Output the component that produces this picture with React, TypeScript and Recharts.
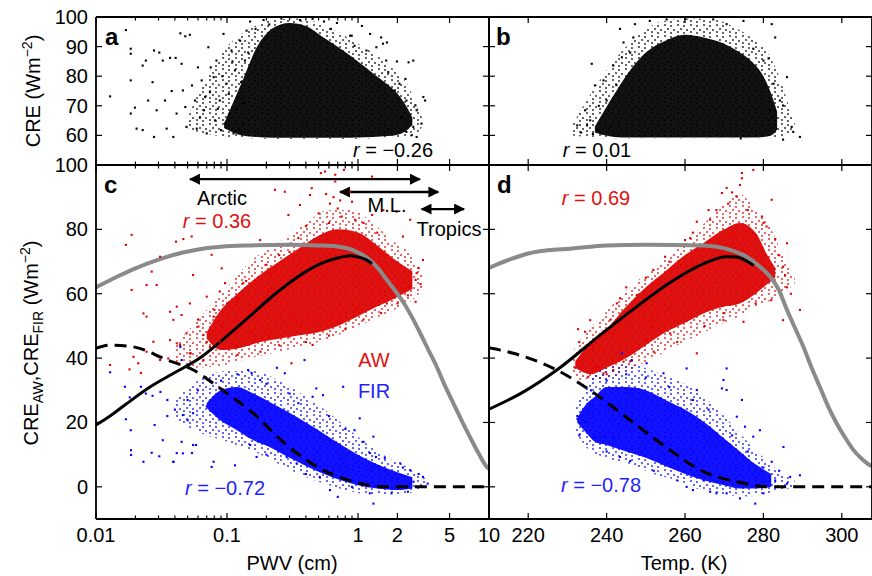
import React from "react";
import { ComposedChart, Scatter, Line, Area, XAxis, YAxis } from "recharts";

const FONT = "'Liberation Sans', Arial, Helvetica, sans-serif";
const RED = "#dd0000";
const BLUE = "#0000ff";
const GREY = "#8a8a8a";

type Pt = [number, number];
type Band = [number, number, number];

// axes
const PWV_TICKS = [0.01, 0.02, 0.03, 0.04, 0.05, 0.06, 0.07, 0.08, 0.09, 0.1, 0.2, 0.3, 0.4, 0.5, 0.6, 0.7, 0.8, 0.9, 1, 2, 5, 10];
const PWV_MAJOR = [0.01, 0.1, 1, 2, 5, 10];
const TEMP_TICKS = [220, 240, 260, 280, 300];
const CRE_TICKS = [60, 70, 80, 90, 100];
const CRE2_TICKS = [0, 20, 40, 60, 80, 100];

// panel a: CRE vs PWV
const A_CORE: Band[] = [[0.095, 62.5, 64], [0.13, 60, 78], [0.17, 59.5, 90], [0.22, 59.2, 96], [0.3, 59.2, 98], [0.4, 59.2, 97], [0.55, 59.2, 93], [0.75, 59.2, 89], [1.0, 59.3, 85], [1.3, 59.5, 81], [1.7, 59.8, 77], [2.1, 60.5, 73], [2.4, 62, 69], [2.6, 63.5, 66]];
const A_HALO: Band[] = [[0.05, 62, 66], [0.07, 60.5, 80], [0.1, 59.5, 90], [0.15, 59, 96], [0.22, 58.8, 99], [0.35, 58.8, 99.5], [0.5, 58.8, 98], [0.7, 58.8, 95], [1.0, 58.8, 91], [1.4, 59, 87], [1.9, 59.2, 82], [2.4, 59.5, 77], [2.8, 60.5, 70], [3.1, 63, 66]];
const A_DOTS: Pt[] = [
  [0.0128, 73.2], [0.0169, 95.6], [0.0184, 89.3], [0.0184, 87.6], [0.0184, 78.6], [0.0184, 67.4], [0.0198, 69.4], [0.0204, 62.3], [0.0227, 61.8], [0.0227, 83.6],
  [0.024, 85.3], [0.025, 71.8], [0.027, 78], [0.0277, 59.5], [0.0277, 88.7], [0.029, 68.5], [0.0304, 88], [0.0323, 85.3], [0.0336, 71.8], [0.0346, 62.3],
  [0.0367, 86.2], [0.0378, 75], [0.0389, 59.5], [0.0405, 86.2], [0.0412, 67.4], [0.045, 84.2], [0.046, 75.2], [0.048, 69.6], [0.049, 62.9], [0.044, 94.5],
  [0.048, 93.5], [0.052, 94], [0.054, 76.9], [0.057, 71.8], [0.0587, 62.3], [0.06, 83], [0.064, 78.6], [0.0667, 68.5], [0.07, 60.7], [0.072, 89.8],
  [0.074, 74.6], [0.079, 79.7], [0.081, 65.1], [0.083, 85.3], [0.088, 71.8], [0.09, 61.8], [0.094, 94.3], [0.099, 77.5], [0.105, 67.4], [0.108, 88.7],
  [0.112, 60.7], [0.115, 82], [0.122, 73], [0.126, 92], [0.133, 64], [0.137, 85.3], [0.141, 95.4], [0.062, 66], [0.068, 73], [0.075, 83],
  [0.085, 69], [0.092, 80], [0.097, 64], [0.103, 74], [0.11, 85], [0.118, 69], [0.124, 62], [0.128, 78], [0.135, 71], [0.145, 88],
  [0.15, 98.5], [0.165, 96], [0.19, 99], [0.21, 97.5], [0.26, 99.5], [0.895, 93.7], [1.236, 94.3], [1.5, 93.1], [1.66, 91.4], [1.16, 88.7],
  [1.64, 85.3], [1.98, 85], [2.43, 84.7], [2.64, 85.3], [1.16, 81.4], [1.7, 81.4], [2.3, 79.1], [3.15, 73], [3.25, 71.8], [2.74, 70.2],
  [2.8, 68.5], [3.05, 64], [2.64, 62.9], [2.57, 60.1], [2.8, 59.5], [2.34, 61.2], [0.87, 93.7], [0.45, 99.4], [0.55, 98.5], [0.69, 98],
  [1.07, 97], [0.94, 90.3], [1.38, 89.8], [1.55, 91], [2.07, 77.5], [1.91, 75.2], [2.34, 71.8], [2.15, 66.2], [0.36, 99], [0.62, 96],
];

// panel b: CRE vs temperature
const B_CORE: Band[] = [[237, 61, 63], [242, 59.5, 74], [246, 59.3, 82], [250, 59.3, 88], [255, 59.3, 92], [260, 59.3, 94], [265, 59.3, 93], [270, 59.3, 91], [274, 59.3, 88], [277, 59.3, 85], [280, 59.5, 80], [282, 60, 74], [283.5, 62, 68]];
const B_HALO: Band[] = [[231, 60, 63], [235, 59.5, 72], [240, 59, 82], [245, 59, 90], [250, 59, 96], [256, 59, 99], [262, 59, 99.5], [268, 59, 99], [272, 59, 97], [277, 59, 93], [281, 59, 88], [284, 59.5, 80], [286.5, 60.5, 70], [288, 62, 64]];
const B_DOTS: Pt[] = [
  [232.5, 63.4], [234.5, 68.5], [235, 63.4], [235.8, 65.1], [236.2, 84.2], [237, 76.9], [239.2, 78.6], [241.7, 83.6], [243.4, 96], [243.9, 86.4],
  [246.8, 93.1], [247.2, 97.6], [251, 98.7], [255.3, 99.2], [260, 99.3], [267.2, 99.2], [270.6, 97.6], [274.9, 98.7], [282.1, 97.6], [283, 93.1],
  [277.4, 89.3], [280, 85.3], [281.3, 86], [286, 79.7], [284.2, 71.8], [285, 70.1], [287.2, 62.9], [289.3, 59.5], [285, 58.6], [274.2, 59],
  [287.6, 61.2], [281.7, 68.5], [282.6, 77.5], [240, 71.8], [240.4, 68.5], [237.8, 61.8], [238.8, 60.7], [244.3, 91.4], [246, 88], [238, 70],
  [236.5, 60.5], [233.5, 61], [241, 63], [242.5, 77],
];

// panel c: AW / FIR vs PWV
const C_AW_CORE: Band[] = [[0.07, 46, 48], [0.09, 42.5, 55], [0.12, 43, 60], [0.18, 45, 66], [0.25, 46, 70], [0.35, 47, 74], [0.5, 48, 78], [0.7, 50, 80], [1.0, 53, 79], [1.4, 56, 75], [2.0, 59, 70], [2.6, 61.5, 67]];
const C_AW_HALO: Band[] = [[0.04, 38, 44], [0.06, 37, 52], [0.1, 38, 62], [0.15, 40, 70], [0.25, 42, 76], [0.4, 44, 82], [0.6, 46, 86], [0.9, 49, 86], [1.3, 52, 82], [1.9, 55, 76], [2.6, 58, 72], [3.1, 61, 66]];
const C_AW_DOTS: Pt[] = [
  [0.0169, 75.2], [0.0187, 78.3], [0.0187, 61.2], [0.0266, 66.9], [0.0308, 71.5], [0.0243, 62.7], [0.029, 62.7], [0.0408, 76.2], [0.0464, 77], [0.0537, 77.8],
  [0.055, 65.8], [0.023, 53.9], [0.0243, 52.9], [0.0367, 54.4], [0.0389, 51.9], [0.045, 53.4], [0.0128, 37.9], [0.018, 36.5], [0.021, 38.4], [0.0243, 42],
  [0.0274, 45.1], [0.0308, 39.4], [0.0356, 39.9], [0.0367, 45.6], [0.0438, 44.1], [0.049, 47.7], [0.0528, 41.5], [0.022, 35.4], [0.0193, 40.4], [0.0763, 72.1],
  [0.091, 67.9], [0.0965, 63.3], [0.179, 76.7], [0.232, 92.3], [0.276, 91.7], [0.294, 84.5], [0.36, 87.6], [0.35, 77.3], [0.43, 90.7], [0.443, 92.8],
  [0.52, 97.5], [0.56, 98], [0.67, 97], [0.67, 94.9], [0.78, 98.5], [0.57, 91], [0.61, 88], [0.65, 90], [0.7, 86.5], [0.73, 89],
  [0.87, 91.7], [0.9, 88.6], [1.28, 96.4], [1.28, 84.5], [1.56, 86], [1.97, 85.5], [2.5, 83], [2.2, 77.8], [3.13, 70.5], [2.8, 66.4],
  [2.75, 64.3], [2.75, 57.5], [1.66, 57], [2.5, 62.2], [0.0413, 56], [0.052, 57], [0.07, 59.1], [0.079, 52.9], [0.0604, 49.8], [0.066, 47.2],
  [0.088, 60.7], [0.133, 63.3], [0.212, 66.4], [0.119, 58.6], [0.0413, 44.6], [0.052, 41.5], [0.066, 39.4], [0.074, 43.5], [0.088, 45.1], [0.119, 43.5],
  [0.159, 46.7], [0.21, 46.7], [0.3, 46.7], [0.45, 44.1], [0.31, 38.4], [0.6, 82], [0.75, 84], [0.95, 83], [0.5, 85], [0.4, 81],
  [1.1, 82], [1.4, 79], [0.3, 73], [0.25, 72], [0.2, 69], [0.14, 64], [0.1, 57], [0.08, 55], [0.06, 52], [0.09, 50],
  [0.07, 45], [0.12, 41], [0.18, 42], [0.25, 44], [0.4, 45], [0.6, 47], [0.8, 49], [1.1, 52], [1.5, 54], [2.0, 57],
  [2.4, 59.5], [3.0, 63], [2.9, 68],
];
const C_FIR_CORE: Band[] = [[0.07, 24.5, 26], [0.09, 20.5, 30], [0.12, 17.5, 31], [0.15, 15, 29.5], [0.22, 12, 26], [0.3, 9, 23], [0.4, 6.5, 20], [0.55, 4, 16.5], [0.75, 2, 13], [1.0, 0.5, 10], [1.4, -0.5, 7], [2.0, -1, 4.5], [2.6, -0.5, 3]];
const C_FIR_HALO: Band[] = [[0.04, 21, 27], [0.06, 17, 33], [0.1, 14, 36], [0.16, 11, 36], [0.25, 7, 33], [0.4, 3, 28], [0.6, 0.5, 23], [0.9, -1.5, 17], [1.3, -2.5, 12], [1.9, -2.5, 8], [2.7, -1.5, 5], [3.3, 0, 2.5]];
const C_FIR_DOTS: Pt[] = [
  [0.0128, 35.6], [0.0166, 31.1], [0.0181, 27.8], [0.022, 31.1], [0.0169, 21], [0.0184, 17.6], [0.0185, 11.4], [0.0185, 9.9], [0.023, 7.8], [0.0266, 10.6],
  [0.0304, 9.5], [0.028, 19.2], [0.0323, 14.5], [0.0389, 7.8], [0.0413, 10.5], [0.054, 10.5], [0.045, 14], [0.024, 29], [0.027, 28.3], [0.031, 29.5],
  [0.035, 27], [0.044, 43.5], [0.045, 39.4], [0.046, 22.3], [0.05, 20.7], [0.055, 22.9], [0.058, 13], [0.046, 10.4], [0.055, 13], [0.079, 7.8],
  [0.0763, 6.2], [0.115, 6.7], [0.168, 9.3], [0.145, 36.3], [0.154, 35.4], [0.179, 33.2], [0.24, 37], [0.276, 35.3], [0.39, 39.4], [0.48, 30.6],
  [0.45, 28], [0.54, 28.5], [0.77, 31.1], [1.03, 21.3], [0.94, 17.6], [1.31, 15.6], [1.23, 10.5], [1.37, 9.3], [2.1, 7.3], [2.5, 5.2],
  [3.13, 3.1], [2.65, 1.6], [1.23, -2], [1.31, -5.2], [0.61, -1], [0.51, 3.1], [0.34, 7.3], [0.25, 14.5], [0.285, 9.3], [0.7, -3.1],
  [0.039, 7.8], [0.06, 30], [0.07, 25], [0.05, 27], [0.04, 24], [0.035, 22], [0.09, 33], [0.12, 35], [0.2, 32], [0.3, 29],
  [0.35, 26], [0.6, 22], [0.8, 18], [1.1, 14], [1.6, 9], [2.2, 6], [2.9, 4], [0.2, 10], [0.15, 13], [0.4, 4],
  [0.9, 0], [1.8, -2], [2.4, -1.5], [3.4, 1],
];

// panel d: AW / FIR vs temperature
const D_AW_CORE: Band[] = [[232, 37, 39], [236, 35, 45], [240, 37, 49], [245, 40, 56], [250, 44, 62], [255, 48, 67], [260, 51, 72], [265, 54, 76], [270, 56, 80], [274, 57, 82], [278, 60, 79], [281, 63, 72], [283, 65, 68]];
const D_AW_HALO: Band[] = [[231, 35, 41], [234, 33, 47], [238, 33, 52], [245, 36, 61], [252, 40, 68], [258, 44, 74], [265, 48, 82], [270, 51, 88], [274, 53, 91], [278, 56, 86], [282, 58, 80], [285, 60, 72], [288, 63, 66]];
const D_AW_DOTS: Pt[] = [
  [234.5, 48.2], [235.8, 51.8], [236.2, 44.1], [237.5, 37.3], [235.3, 34.2], [239.2, 35.3], [242.6, 57], [243.4, 58.6], [247.7, 59.6], [251.9, 67.4],
  [254.9, 71.5], [260, 76.7], [261.3, 77.3], [263, 82.4], [266.4, 83], [268, 86], [269.4, 91.3], [270.6, 92.9], [272, 91.5], [273.2, 90.2],
  [274, 93.8], [274.5, 97.5], [277.4, 98.5], [274.5, 95.9], [282.1, 89.2], [279.6, 84], [280.8, 80.9], [286, 75.7], [285, 68.4], [285.5, 65.8],
  [289.3, 55], [285, 51.8], [274.9, 51.3], [269.8, 51.8], [263, 41.5], [256.2, 47.7], [251.9, 49.8], [250.2, 45.6], [244.3, 38.9], [241.7, 36.3],
  [239.2, 42], [232, 37], [233, 45], [234, 40], [232.7, 49], [245, 62], [250, 65], [256, 70], [262, 79], [266, 86],
  [271, 88], [276, 86], [280, 82], [283, 77], [284, 72], [286, 62], [287, 60], [282, 58], [278, 57], [270, 54],
  [265, 50], [258, 45], [252, 42], [246, 39], [240, 35], [238, 46], [241, 52],
];
const D_FIR_CORE: Band[] = [[232.5, 20, 21.5], [235, 16.5, 26], [237, 14, 28], [240, 13, 31], [245, 11, 31], [250, 9, 30], [255, 6.5, 27], [260, 4, 24], [265, 2, 20], [270, 0.5, 15], [274, -0.5, 11], [278, -0.5, 7], [282, 0, 4]];
const D_FIR_HALO: Band[] = [[232, 17, 25], [235, 12, 32], [240, 9, 37], [246, 7, 38], [252, 4, 36], [258, 2, 33], [264, -1, 29], [270, -2.5, 22], [276, -3, 14], [281, -2, 8], [285, -1, 4], [288, 0, 2]];
const D_FIR_DOTS: Pt[] = [
  [234.5, 20.2], [235.8, 25.4], [237, 15.6], [238.3, 18.7], [239.2, 15.6], [243.4, 9.3], [241.7, 15.1], [243.9, 41.5], [246.4, 39.4], [250.2, 38.4],
  [254.5, 35.3], [260.4, 36.8], [263, 30.1], [269.8, 33.2], [270.6, 36.8], [269.4, 30.6], [270.6, 30.1], [274.5, 27], [273.2, 21.8], [275.3, 18.7],
  [279.1, 17.6], [277.4, 15.6], [285.1, 12.4], [282.1, 7.8], [284, 5], [286.8, 3.1], [289.3, 3.6], [274, -3.6], [277.9, -5.2], [270.6, -2],
  [264.7, 2.1], [260.4, 0], [266.4, -1.5], [232.5, 22], [233, 16], [236, 30], [240, 33], [245, 35], [250, 34], [256, 31],
  [262, 27], [266, 24], [272, 16], [276, 11], [280, 6], [283, 2], [286, 1], [252, 5], [246, 8], [240, 11],
  [258, 2], [262, -1], [268, -2], [280, -2],
];

// model curves
const GREY_PWV: Pt[] = [[0.01, 62], [0.015, 65.6], [0.02, 67.9], [0.03, 70.6], [0.046, 72.8], [0.065, 74], [0.09, 74.6], [0.15, 75], [0.3, 75.2], [0.5, 75], [0.69, 74.7], [0.85, 74], [0.98, 73], [1.23, 70.5], [1.45, 67.5], [1.66, 64.3], [2.0, 60], [2.23, 57.2], [2.6, 52.5], [2.98, 47.8], [3.45, 42.5], [3.99, 37.3], [4.6, 31.5], [5.34, 26], [6.2, 20.5], [7.15, 15.5], [8.3, 10.5], [9.6, 6.2], [10, 5.5]];
const SOLID_PWV: Pt[] = [[0.01, 19.2], [0.0128, 22], [0.0166, 25.4], [0.0258, 31], [0.04, 35.5], [0.062, 40], [0.099, 46.7], [0.159, 54], [0.213, 58.6], [0.285, 62.7], [0.383, 66.4], [0.514, 69.3], [0.687, 71], [0.87, 71.8], [1.03, 71.3], [1.16, 70.5], [1.28, 69.3]];
const DASH_PWV: Pt[] = [[0.01, 43], [0.0128, 44], [0.0192, 43.5], [0.0346, 39.5], [0.0553, 36.3], [0.0885, 30.6], [0.159, 22.8], [0.285, 13], [0.514, 5.7], [0.92, 1.6], [1.66, 0], [10, 0]];
const GREY_T: Pt[] = [[210, 68], [215, 70.5], [220, 72.5], [225, 73.5], [230.7, 74], [240, 75], [250, 75.2], [264.6, 75], [271.5, 73.6], [275.7, 71.5], [278.5, 69], [281.7, 65.3], [284, 61], [286, 55], [288, 49.5], [290.2, 43.5], [292.3, 37], [294.4, 31], [296.5, 25], [298.7, 19.7], [301, 15], [303, 11.4], [305, 8.8], [307.2, 6.7], [307.7, 6.4]];
const SOLID_T: Pt[] = [[210, 24.1], [218.8, 29.5], [227.3, 36.3], [239.2, 48], [247.7, 56], [256.2, 63.5], [264.7, 69.3], [270.6, 71.5], [273, 71.4], [275.5, 70.3], [277.5, 68.8]];
const DASH_T: Pt[] = [[210, 43.2], [216.2, 41.5], [227.3, 36.3], [235.8, 30], [246, 20.7], [256.2, 11.4], [264.7, 4.7], [273.2, 1.6], [281.7, 0], [307.7, 0]];

// regime arrows (PWV range, CRE height)
const ARCTIC: Pt[] = [[0.0522, 95.6], [2.97, 95.6]];
const MIDLAT: Pt[] = [[0.729, 91.6], [4.1, 91.6]];
const TROPICS: Pt[] = [[3.06, 86.3], [6.45, 86.3]];

const xy = (a: Pt[]) => a.map(([x, y]) => ({ x, y }));
const band = (a: Band[]) => a.map(([x, lo, hi]) => ({ x, r: [lo, hi] }));

const AXIS = { stroke: "#000", strokeWidth: 1.8 };

const isIn = (list: number[], v: number) => list.some((m) => Math.abs(m - v) < 1e-9);

const xTick = (majors: number[], label: boolean, down: boolean) => (p: any) => {
  const v = p.payload.value;
  const major = isIn(majors, v);
  const len = major ? 6 : 3.5;
  return (
    <g>
      <line x1={p.x} x2={p.x} y1={p.y} y2={down ? p.y + len : p.y - len} stroke="#000" strokeWidth={1.2} />
      {label && major && (
        <text x={p.x} y={p.y + 23} textAnchor="middle" fontSize={20} fontFamily={FONT} fill="#000">{v}</text>
      )}
    </g>
  );
};

const yTick = (label: boolean, right: boolean) => (p: any) => (
  <g>
    <line x1={p.x} x2={right ? p.x - 6 : p.x + 6} y1={p.y} y2={p.y} stroke="#000" strokeWidth={1.2} />
    {label && (
      <text x={p.x - 8} y={p.y + 7} textAnchor="end" fontSize={20} fontFamily={FONT} fill="#000">{p.payload.value}</text>
    )}
  </g>
);

const dot = (color: string) => (p: any) => <rect x={p.cx - 1} y={p.cy - 1} width={2.1} height={2.1} fill={color} />;

interface PanelProps {
  x: number; y: number; w: number; h: number; padL: number; padB: number;
  log: boolean; xDomain: [number, number]; xTicks: number[]; xMajor: number[]; xLabels: boolean;
  yDomain: [number, number]; yTicks: number[]; yLabels: boolean;
  children: React.ReactNode;
}

// axes get 1px of room (recharts skips drawing a zero-sized axis), margins absorb it
function Panel(p: PanelProps) {
  const PAD = 16;
  const xCommon = {
    dataKey: "x", type: "number" as const, scale: p.log ? ("log" as const) : ("linear" as const),
    domain: p.xDomain, allowDataOverflow: true, ticks: p.xTicks, interval: 0 as const,
    height: 1, tickSize: 0, tickMargin: 0, tickLine: false, axisLine: AXIS,
  };
  const yCommon = {
    type: "number" as const, domain: p.yDomain, allowDataOverflow: true, ticks: p.yTicks,
    interval: 0 as const, width: 1, tickSize: 0, tickMargin: 0, tickLine: false, axisLine: AXIS,
  };
  return (
    <div style={{ position: "absolute", left: p.x - p.padL, top: p.y - PAD }}>
      <ComposedChart width={p.w + p.padL + PAD} height={p.h + PAD + p.padB} margin={{ top: PAD - 1, right: PAD - 1, bottom: p.padB - 1, left: p.padL - 1 }}>
        <XAxis xAxisId="b" orientation="bottom" {...xCommon} tick={xTick(p.xMajor, p.xLabels, false)} />
        <XAxis xAxisId="t" orientation="top" {...xCommon} tick={xTick(p.xMajor, false, true)} />
        <YAxis yAxisId="l" orientation="left" dataKey="y" {...yCommon} tick={yTick(p.yLabels, false)} />
        <YAxis yAxisId="r" orientation="right" {...yCommon} tick={yTick(false, true)} />
        {p.children}
      </ComposedChart>
    </div>
  );
}

// dense part of a cloud drawn as a filled range band, its thinner rim as a dotted band
function cloud(key: string, core: Band[], halo: Band[], dots: Pt[], color: string, name: string) {
  return [
    <Area key={key + "h"} data={band(halo)} dataKey="r" xAxisId="b" yAxisId="l" type="monotone" stroke="none" fill={`url(#halo-${name})`} dot={false} activeDot={false} isAnimationActive={false} />,
    <Area key={key + "c"} data={band(core)} dataKey="r" xAxisId="b" yAxisId="l" type="monotone" stroke="none" fill={color} fillOpacity={0.93} dot={false} activeDot={false} isAnimationActive={false} />,
    <Scatter key={key + "d"} data={xy(dots)} xAxisId="b" yAxisId="l" fill={color} shape={dot(color)} isAnimationActive={false} />,
  ];
}

function curve(key: string, data: Pt[], color: string, width: number, dash?: string) {
  return (
    <Line key={key} data={xy(data)} dataKey="y" xAxisId="b" yAxisId="l" type="monotone" stroke={color} strokeWidth={width} strokeDasharray={dash} dot={false} activeDot={false} isAnimationActive={false} />
  );
}

function arrow(key: string, data: Pt[]) {
  return (
    <Line key={key} data={xy(data)} dataKey="y" xAxisId="b" yAxisId="l" type="linear" stroke="#000" strokeWidth={2.4} markerStart="url(#ah)" markerEnd="url(#ah)" dot={false} activeDot={false} isAnimationActive={false} />
  );
}

function Speckle({ name, color }: { name: string; color: string }) {
  return (
    <pattern id={`halo-${name}`} width={13} height={11} patternUnits="userSpaceOnUse">
      <rect x={1} y={1} width={2} height={2} fill={color} />
      <rect x={7} y={2} width={2} height={2} fill={color} />
      <rect x={4} y={5} width={2} height={2} fill={color} />
      <rect x={10} y={6} width={2} height={2} fill={color} />
      <rect x={1} y={8} width={2} height={2} fill={color} />
      <rect x={7} y={9} width={2} height={2} fill={color} />
    </pattern>
  );
}

const R = ({ v, x, y, color }: { v: string; x: number; y: number; color: string }) => (
  <text x={x} y={y} textAnchor="middle" fontSize={20} fill={color}>
    <tspan fontStyle="italic">r</tspan> = {v}
  </text>
);

export default function App() {
  const left = { x: 96, w: 393, padL: 96, log: true, xDomain: [0.01, 10] as [number, number], xTicks: PWV_TICKS, xMajor: PWV_MAJOR };
  const right = { x: 489, w: 383, padL: 8, log: false, xDomain: [210, 307.7] as [number, number], xTicks: TEMP_TICKS, xMajor: TEMP_TICKS };
  const top = { y: 17, h: 148, padB: 8, xLabels: false, yDomain: [50, 100] as [number, number], yTicks: CRE_TICKS };
  const bot = { y: 165, h: 354, padB: 40, xLabels: true, yDomain: [-10, 100] as [number, number], yTicks: CRE2_TICKS };

  return (
    <div style={{ position: "absolute", left: 0, top: 0, width: 872, height: 576, overflow: "hidden", background: "#fff", fontFamily: FONT }}>
      <svg width={0} height={0} style={{ position: "absolute" }}>
        <defs>
          <Speckle name="k" color="#000" />
          <Speckle name="r" color={RED} />
          <Speckle name="b" color={BLUE} />
          <marker id="ah" viewBox="0 0 10 10" refX="9" refY="5" markerWidth="15" markerHeight="11" markerUnits="userSpaceOnUse" orient="auto-start-reverse">
            <path d="M0,0 L10,5 L0,10 z" fill="#000" />
          </marker>
        </defs>
      </svg>
      <Panel {...left} {...top} yLabels>
        {cloud("a", A_CORE, A_HALO, A_DOTS, "#000", "k")}
      </Panel>
      <Panel {...right} {...top} yLabels={false}>
        {cloud("b", B_CORE, B_HALO, B_DOTS, "#000", "k")}
      </Panel>
      <Panel {...left} {...bot} yLabels>
        {cloud("caw", C_AW_CORE, C_AW_HALO, C_AW_DOTS, RED, "r")}
        {cloud("cfir", C_FIR_CORE, C_FIR_HALO, C_FIR_DOTS, BLUE, "b")}
        {curve("cg", GREY_PWV, GREY, 4)}
        {curve("cs", SOLID_PWV, "#000", 3)}
        {curve("cd", DASH_PWV, "#000", 3, "12 7")}
        {arrow("arc", ARCTIC)}
        {arrow("ml", MIDLAT)}
        {arrow("tro", TROPICS)}
      </Panel>
      <Panel {...right} {...bot} yLabels={false}>
        {cloud("daw", D_AW_CORE, D_AW_HALO, D_AW_DOTS, RED, "r")}
        {cloud("dfir", D_FIR_CORE, D_FIR_HALO, D_FIR_DOTS, BLUE, "b")}
        {curve("dg", GREY_T, GREY, 4)}
        {curve("ds", SOLID_T, "#000", 3)}
        {curve("dd", DASH_T, "#000", 3, "12 7")}
      </Panel>

      <svg width={872} height={576} style={{ position: "absolute", left: 0, top: 0, pointerEvents: "none" }} fontFamily={FONT}>
        <text x={105} y={45} fontSize={24} fontWeight="bold">a</text>
        <text x={496} y={45} fontSize={24} fontWeight="bold">b</text>
        <text x={104} y={193} fontSize={24} fontWeight="bold">c</text>
        <text x={497} y={193} fontSize={24} fontWeight="bold">d</text>

        <R v="−0.26" x={393} y={157} color="#000" />
        <R v="0.01" x={597} y={157} color="#000" />
        <R v="0.36" x={217} y={228} color="#e01010" />
        <R v="0.69" x={596} y={205} color="#e01010" />
        <R v="−0.72" x={225} y={495} color="#1f1fff" />
        <R v="−0.78" x={601} y={492} color="#1f1fff" />

        <text x={222} y={205} textAnchor="middle" fontSize={20}>Arctic</text>
        <text x={387} y={212} textAnchor="middle" fontSize={20}>M.L.</text>
        <text x={449} y={236} textAnchor="middle" fontSize={20}>Tropics</text>
        <text x={374} y={367} textAnchor="middle" fontSize={20} fill="#e01010">AW</text>
        <text x={374} y={398} textAnchor="middle" fontSize={20} fill="#1f1fff">FIR</text>

        <text x={292} y={570} textAnchor="middle" fontSize={20}>PWV (cm)</text>
        <text x={684} y={570} textAnchor="middle" fontSize={20}>Temp. (K)</text>

        <text transform="translate(40,91) rotate(-90)" textAnchor="middle" fontSize={20}>
          CRE (Wm<tspan dy={-8} fontSize={14}>−2</tspan><tspan dy={8}>)</tspan>
        </text>
        <text transform="translate(38,343) rotate(-90)" textAnchor="middle" fontSize={20}>
          CRE<tspan dy={5} fontSize={14}>AW</tspan><tspan dy={-5}>,CRE</tspan><tspan dy={5} fontSize={14}>FIR</tspan>
          <tspan dy={-5}> (Wm</tspan><tspan dy={-8} fontSize={14}>−2</tspan><tspan dy={8}>)</tspan>
        </text>
      </svg>
    </div>
  );
}
